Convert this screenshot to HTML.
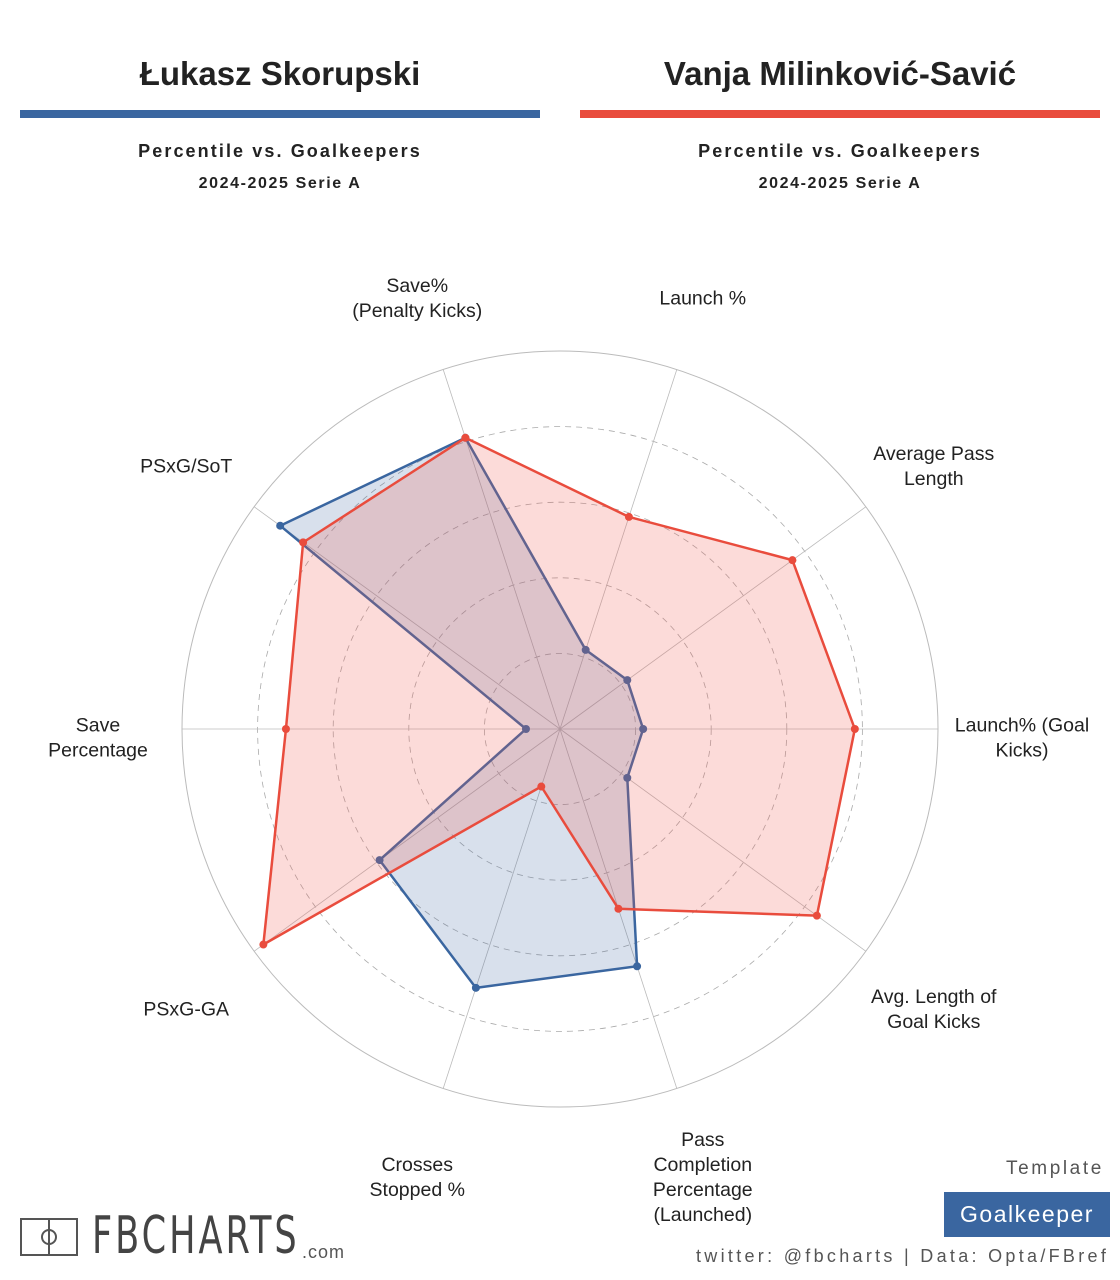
<!DOCTYPE html>
<html><head><meta charset="utf-8"><style>
body{margin:0;background:#fff;font-family:"Liberation Sans",sans-serif}
#wrap{position:relative;width:1120px;height:1280px;overflow:hidden}
.t{position:absolute;text-align:center}
</style></head><body>
<div id="wrap">
<div class="t" style="left:20px;width:520px;top:55px;font-size:33px;font-weight:bold;color:#222">Łukasz Skorupski</div>
<div style="position:absolute;left:20px;top:110px;width:520px;height:8px;background:#3a66a0"></div>
<div class="t" style="left:20px;width:520px;top:141px;font-size:18px;font-weight:bold;letter-spacing:2.1px;color:#222">Percentile vs. Goalkeepers</div>
<div class="t" style="left:20px;width:520px;top:175px;font-size:16px;font-weight:bold;letter-spacing:1.6px;color:#222">2024-2025 Serie A</div>
<div class="t" style="left:580px;width:520px;top:55px;font-size:33px;font-weight:bold;color:#222">Vanja Milinković-Savić</div>
<div style="position:absolute;left:580px;top:110px;width:520px;height:8px;background:#e94c3d"></div>
<div class="t" style="left:580px;width:520px;top:141px;font-size:18px;font-weight:bold;letter-spacing:2.1px;color:#222">Percentile vs. Goalkeepers</div>
<div class="t" style="left:580px;width:520px;top:175px;font-size:16px;font-weight:bold;letter-spacing:1.6px;color:#222">2024-2025 Serie A</div>
<svg id="radar" width="1120" height="1280" style="position:absolute;left:0;top:0"></svg>
<div style="position:absolute;left:20px;top:1214px;width:320px;height:50px">
<div style="position:absolute;left:0;top:4px;width:58px;height:38px;border:2px solid #555;box-sizing:border-box"></div>
<div style="position:absolute;left:28px;top:4px;width:2px;height:38px;background:#555"></div>
<div style="position:absolute;left:21px;top:15px;width:16px;height:16px;border:2px solid #555;border-radius:50%;box-sizing:border-box"></div>
<div style="position:absolute;left:72px;top:-8px;font-size:52px;font-family:'DejaVu Sans Condensed','Liberation Sans Narrow',sans-serif;letter-spacing:4px;color:#444;transform:scaleX(0.75);transform-origin:left">FBCHARTS</div>
<div style="position:absolute;left:282px;top:28px;font-size:18px;color:#555;letter-spacing:1px">.com</div>
</div>
<div style="position:absolute;left:1006px;top:1158px;font-size:19px;color:#555;letter-spacing:2.6px">Template</div>
<div style="position:absolute;left:944px;top:1192px;width:166px;height:45px;background:#3a66a0;color:#fff;font-size:23px;line-height:45px;text-align:center;letter-spacing:1.5px">Goalkeeper</div>
<div style="position:absolute;left:696px;top:1246px;font-size:18px;color:#555;letter-spacing:3.3px;white-space:nowrap">twitter: @fbcharts | Data: Opta/FBref</div>
</div>
<script>
const categories=["Save%\n(Penalty Kicks)","Launch %","Average Pass\nLength","Launch% (Goal\nKicks)","Avg. Length of\nGoal Kicks","Pass\nCompletion\nPercentage\n(Launched)","Crosses\nStopped %","PSxG-GA","Save\nPercentage","PSxG/SoT"];
const skorupski=[81,22,22,22,22,66,72,59,9,91.5];
const milinkovic=[81,59,76,78,84,50,16,97,72.5,84];
const ringTicks=[20,40,60,80];
const svg=document.getElementById('radar');
const NS='http://www.w3.org/2000/svg';
const cx=560,cy=729,R=378;
function ang(i){return (-18+36*i)*Math.PI/180;}
function pt(i,v){const a=ang(i),r=v/100*R;return [cx+r*Math.sin(a),cy-r*Math.cos(a)];}
function mk(t,at){const e=document.createElementNS(NS,t);for(const k in at)e.setAttribute(k,at[k]);svg.appendChild(e);return e;}
let c=mk('circle',{cx,cy,r:R,fill:'none',stroke:'#bbb','stroke-width':1});


ringTicks.forEach(t=>{const e=mk('circle',{cx,cy,r:t/100*R,fill:'none',stroke:'#aaa','stroke-dasharray':'6,5','stroke-width':0.8});

});
categories.forEach((_,i)=>{const p=pt(i,100);const e=mk('line',{x1:cx,y1:cy,x2:p[0],y2:p[1],stroke:'#bbb','stroke-width':0.8});

});
function series(vals,fill,stroke,name){
const pts=vals.map((v,i)=>pt(i,v));
const p=mk('polygon',{points:pts.map(q=>q.join(',')).join(' '),fill:fill,stroke:stroke,'stroke-width':2.5,'stroke-linejoin':'round'});


pts.forEach(q=>{const d=mk('circle',{cx:q[0],cy:q[1],r:4,fill:stroke});

});}
series(skorupski,'rgba(58,102,160,0.2)','#3a66a0','skorupski');
series(milinkovic,'rgba(240,90,80,0.22)','#e94c3d','milinkovic');
categories.forEach((lab,i)=>{const a=ang(i);const lr=462;
const x=cx+lr*Math.sin(a),y=cy-lr*Math.cos(a);const lines=lab.split('\n');
const t=mk('text',{x:x,'text-anchor':'middle','font-size':19.5,fill:'#222','font-family':'Liberation Sans, sans-serif'});


const y0=y-(lines.length-1)*25/2+15;
lines.forEach((l,k)=>{const s=document.createElementNS(NS,'tspan');s.setAttribute('x',x);s.setAttribute('y',y0+k*25);s.textContent=l;t.appendChild(s);});});
</script>
</body></html>
